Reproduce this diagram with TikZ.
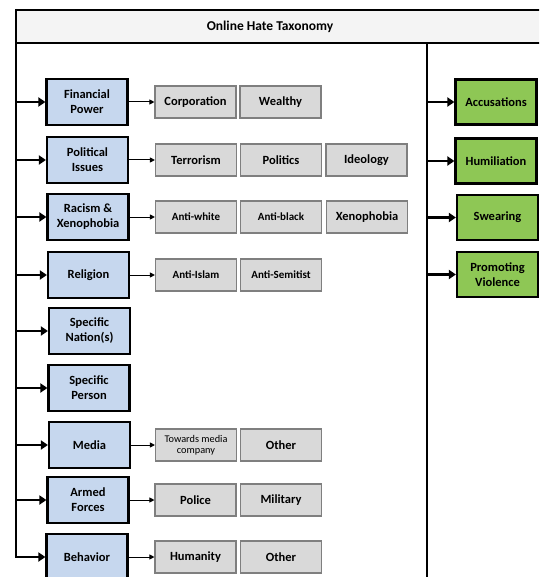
\documentclass[tikz,border=0pt]{standalone}
\usepackage{fontspec}
\setmainfont{Carlito}
\usetikzlibrary{arrows.meta}
\definecolor{blueC}{HTML}{C6D7EE}
\definecolor{greenC}{HTML}{8EC755}
\definecolor{greyC}{HTML}{D9D9D9}
\definecolor{greyB}{HTML}{7F7F7F}
\definecolor{titleC}{HTML}{F4F4F4}
\tikzset{
  catbox/.style={draw=black, line width=2.2pt, fill=blueC, minimum width=81pt, minimum height=46pt,
    align=center, inner sep=1pt, font=\bfseries\fontsize{12.5}{15}\selectfont},
  subbox/.style={draw=greyB, line width=1.1pt, fill=greyC, minimum width=81pt, minimum height=32pt,
    align=center, inner sep=1pt, font=\bfseries\fontsize{12.5}{15}\selectfont},
  smalltxt/.style={font=\bfseries\fontsize{11}{13}\selectfont},
  tinytxt/.style={font=\fontsize{10.3}{11.5}\selectfont},
  typebox/.style={draw=black, line width=2.2pt, fill=greenC, minimum width=81pt, minimum height=45pt,
    align=center, inner sep=1pt, font=\bfseries\fontsize{12.5}{15}\selectfont},
  thickarrow/.style={line width=2.4pt, -{Triangle[length=7pt, width=9pt]}},
  thinarrow/.style={line width=1pt, -{Triangle[length=5pt, width=5pt]}},
  frameline/.style={line width=2.4pt},
}
\begin{document}
\begin{tikzpicture}[x=1pt, y=-1pt]
\useasboundingbox (0,0) rectangle (539,577);
\clip (0,0) rectangle (539,577);
% title band
\fill[titleC] (16,10) rectangle (560,43);
\node[font=\bfseries\fontsize{13.5}{16}\selectfont] (title) at (270,27) {Online Hate Taxonomy};
\coordinate (L) at (16,43);
\coordinate (R) at (427,43);
% category boxes
\node[catbox] (fin) at (87,102) {Financial\\Power};
\node[catbox] (pol) at (87.5,160) {Political\\Issues};
\node[catbox] (rac) at (88,217) {Racism \&\\Xenophobia};
\node[catbox] (rel) at (88.5,275) {Religion};
\node[catbox] (nat) at (89.5,331) {Specific\\Nation(s)};
\node[catbox] (per) at (89,388) {Specific\\Person};
\node[catbox] (med) at (89.5,445) {Media};
\node[catbox] (arm) at (88,500) {Armed\\Forces};
\node[catbox] (beh) at (87,557) {Behavior};
% sub boxes
\node[subbox] (corp) at (195.5,102) {Corporation};
\node[subbox] (weal) at (280.5,102) {Wealthy};
\node[subbox] (terr) at (196,160) {Terrorism};
\node[subbox] (poli) at (281,160) {Politics};
\node[subbox] (ideo) at (366.5,160) {Ideology};
\node[subbox, smalltxt] (awh) at (196,217) {Anti-white};
\node[subbox, smalltxt] (abl) at (281,217) {Anti-black};
\node[subbox] (xen) at (367,217) {Xenophobia};
\node[subbox, smalltxt] (ais) at (196,275) {Anti-Islam};
\node[subbox, smalltxt] (ase) at (281,275) {Anti-Semitist};
\node[subbox, tinytxt] (tmc) at (196,445) {Towards media\\company};
\node[subbox] (oth1) at (281,445) {Other};
\node[subbox] (pol2) at (195.5,500) {Police};
\node[subbox] (mil) at (281,500) {Military};
\node[subbox] (hum) at (195.5,557) {Humanity};
\node[subbox] (oth2) at (281,557) {Other};
% type boxes
\node[typebox] (acc) at (496,102) {Accusations};
\node[typebox] (humil) at (496,161) {Humiliation};
\node[typebox] (swe) at (497.5,217.5) {Swearing};
\node[typebox] (pro) at (497.5,274.5) {Promoting\\Violence};
% frame
\draw[frameline] (560,10) -- (16,10);
\draw[frameline] (16,43) -- (560,43);
\draw[frameline] (R) -- (R |- 0,590);
\draw[thickarrow] (16,9) -- (L |- beh.west) -- (beh.west);
% trunk arrows
\foreach \n in {fin,pol,rac,rel,nat,per,med,arm}
  \draw[thickarrow] (L |- \n.west) -- (\n.west);
\foreach \n in {acc,humil,swe,pro}
  \draw[thickarrow] (R |- \n.west) -- (\n.west);
% branch arrows
\draw[thinarrow] (fin.east) -- (corp.west);
\draw[thinarrow] (pol.east) -- (terr.west);
\draw[thinarrow] (rac.east) -- (awh.west);
\draw[thinarrow] (rel.east) -- (ais.west);
\draw[thinarrow] (med.east) -- (tmc.west);
\draw[thinarrow] (arm.east) -- (pol2.west);
\draw[thinarrow] (beh.east) -- (hum.west);
\end{tikzpicture}
\end{document}
